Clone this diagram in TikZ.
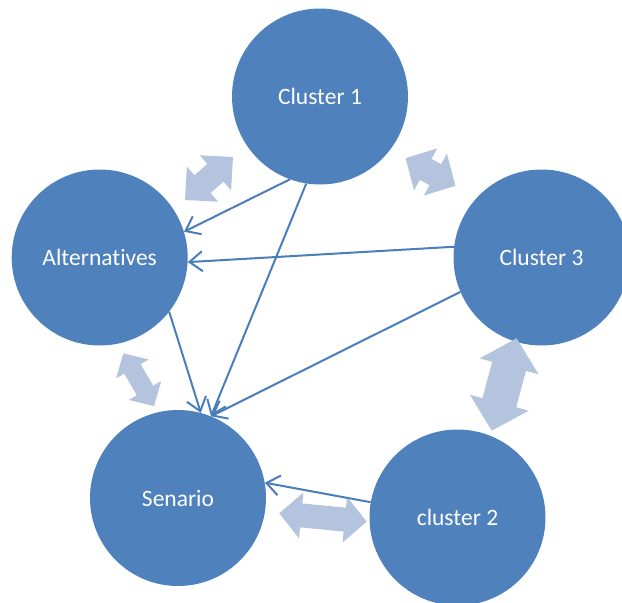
\documentclass[tikz,border=0pt]{standalone}
\usepackage{fontspec}
\setmainfont{Carlito}[Ligatures=NoCommon]
\usetikzlibrary{arrows.meta}

\definecolor{nodeblue}{RGB}{79,129,189}
\definecolor{linkblue}{RGB}{74,126,187}
\definecolor{softblue}{RGB}{180,196,222}

\tikzset{
  cluster/.style={circle, fill=nodeblue, inner sep=0pt, minimum size=176pt,
    text=white, font=\fontsize{23.5}{28}\selectfont},
  link/.style={draw=linkblue, line width=2pt,
    -{Straight Barb[length=13pt,width=20pt]}},
  softarrow/.style={fill=softblue}
}

% block double arrow: centre x, centre y, angle, length, head width, shaft width, head length
\newcommand\blockdblarrow[7]{%
  \begin{scope}[shift={(#1,#2)}, rotate=#3]
    \fill[softarrow]
      ({-#4/2},0) -- ({-#4/2+#7},{#5/2}) -- ({-#4/2+#7},{#6/2})
      -- ({#4/2-#7},{#6/2}) -- ({#4/2-#7},{#5/2}) -- ({#4/2},0)
      -- ({#4/2-#7},{-#5/2}) -- ({#4/2-#7},{-#6/2})
      -- ({-#4/2+#7},{-#6/2}) -- ({-#4/2+#7},{-#5/2}) -- cycle;
  \end{scope}}

\begin{document}
\begin{tikzpicture}[x=1pt, y=-1pt]
  \useasboundingbox (0,0) rectangle (622,603);

  % clusters
  \node[cluster] (c1)  at (320,96.5)   {Cluster 1};
  \node[cluster] (alt) at (99.7,257.5) {Alternatives};
  \node[cluster] (c3)  at (541.5,257.5){Cluster 3};
  \node[cluster] (sen) at (178,498)    {Senario};
  \node[cluster] (c2)  at (457.5,517.5){cluster 2};

  % two-way relations
  \blockdblarrow{209}{178.5}{41.9}{64.4}{47}{24}{23.6}
  \blockdblarrow{430.5}{172}{-29}{57}{48}{24}{23}
  \blockdblarrow{138.7}{379.7}{-59.8}{61}{37.6}{19}{18}
  \blockdblarrow{504.2}{384.5}{74.9}{95.7}{61}{35}{29}
  \blockdblarrow{323}{517.5}{-5.5}{87.8}{46}{24}{22}

  % directed influences
  \draw[link] (c1.250)  -- (alt.17.6);
  \draw[link] (c1.261.6) -- (sen.68.6);
  \draw[link] (c3.173)  -- (alt.-3.9);
  \draw[link] (c3.203)  -- (sen.68);
  \draw[link] (alt.-38.3) -- (sen.75.5);
  \draw[link] (c2.170.7) -- (sen.10.7);
\end{tikzpicture}
\end{document}
